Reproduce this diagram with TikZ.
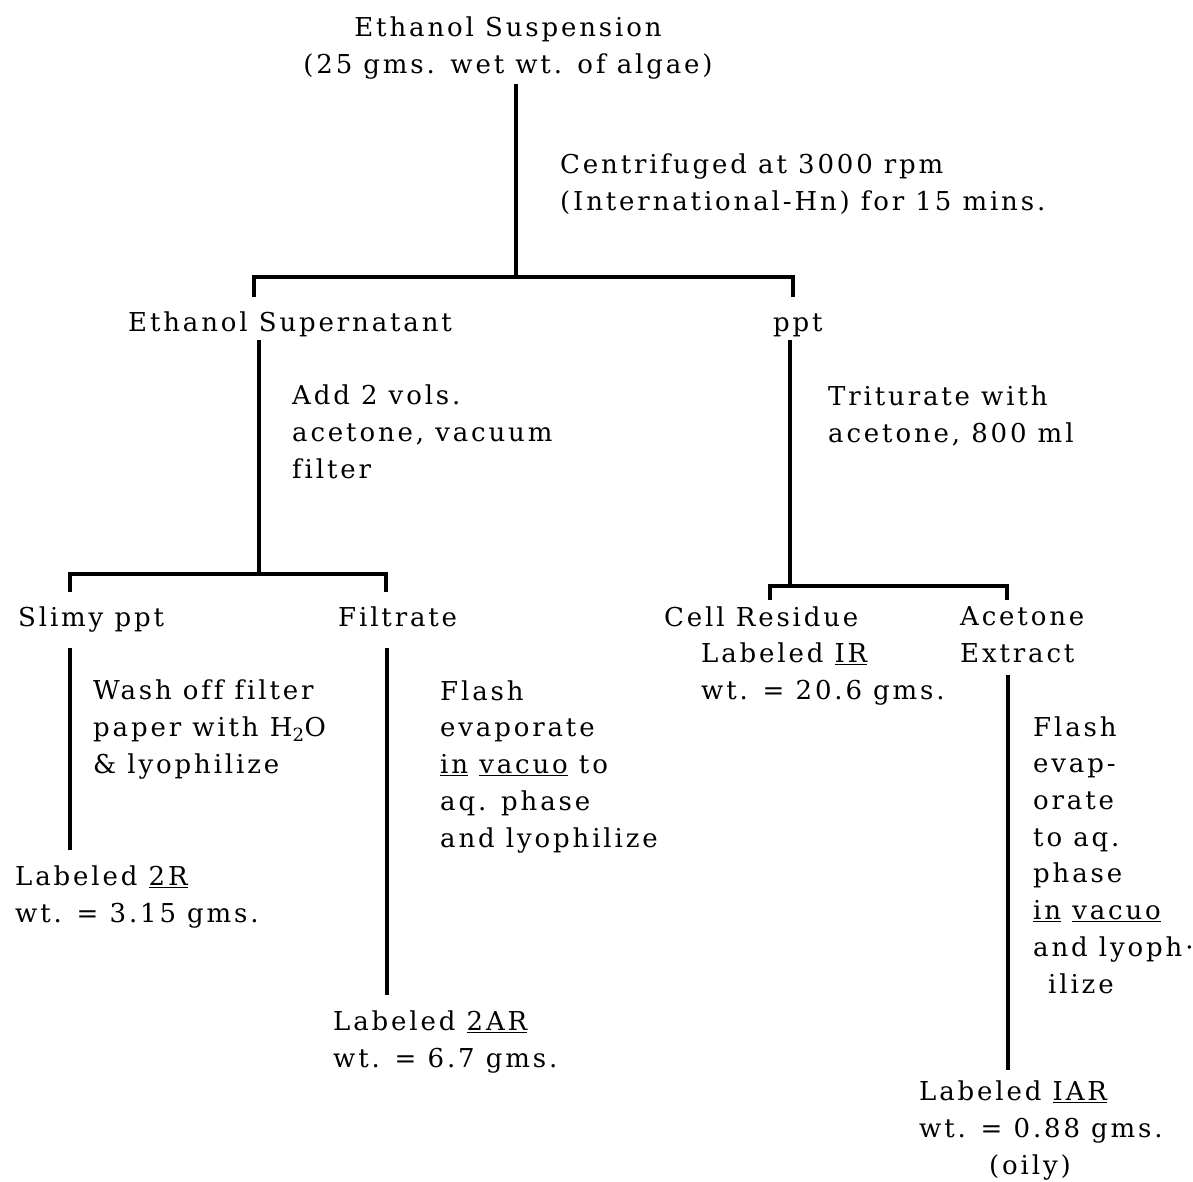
\documentclass[tikz,border=0pt]{standalone}
\usepackage{fontspec}
\setmainfont{DejaVu Serif}[LetterSpace=11, Ligatures=NoCommon]
\usetikzlibrary{calc}

\tikzset{
  txt/.style={inner sep=0pt, anchor=base west, align=left, font=\fontsize{26}{36.7}\selectfont},
  ln/.style={line width=4pt}
}

\begin{document}
\begin{tikzpicture}[x=1pt,y=-1pt]
\useasboundingbox (0,0) rectangle (1193,1181);

% top (base anchor = last line)
\node[txt, anchor=base, align=center] (susp) at (508,73) {Ethanol Suspension\\(25 gms.\ \,wet wt.\ \,of algae)};
\node[txt] (cent) at (560,210) {Centrifuged at 3000 rpm\\(International-Hn) for 15 mins.};

\node[txt] (super) at (128,331) {Ethanol Supernatant};
\node[txt] (ppt) at (773,331) {ppt};

\node[txt] (add) at (292,478) {Add 2 vols.\\acetone, vacuum\\filter};
\node[txt] (trit) at (828,442) {Triturate with\\acetone, 800 ml};

% second level
\node[txt] (slimy) at (18,626) {Slimy ppt};
\node[txt] (filtrate) at (338,626) {Filtrate};
\node[txt] (cell) at (664,626) {Cell Residue};
\node[txt] (labIR) at (701,699) {Labeled \underline{IR}\\wt. = 20.6 gms.};
\node[txt] (acet) at (960,662) {Acetone\\Extract};

\node[txt] (wash) at (93,773) {Wash off filter\\paper with H\textsubscript{2}O\\\& lyophilize};
\node[txt] (flashL) at (440,847) {Flash\\evaporate\\\underline{in} \underline{vacuo} to\\aq. phase\\and lyophilize};
\node[txt] (flashR) at (1033,993) {Flash\\evap-\\orate\\to aq.\\phase\\\underline{in} \underline{vacuo}\\and lyoph·\\\hspace*{15pt}ilize};

% results
\node[txt] (lab2R) at (15,922) {Labeled \underline{2R}\\wt. = 3.15 gms.};
\node[txt] (lab2AR) at (333,1067) {Labeled \underline{2AR}\\wt. = 6.7 gms.};
\node[txt] (labIAR) at (919,1174) {Labeled \underline{IAR}\\wt. = 0.88 gms.\\\hspace*{70pt}(oily)};

% junctions
\coordinate (j1) at (516,277);
\coordinate (b1l) at (254,277);
\coordinate (b1r) at (793,277);
\coordinate (t1l) at (254,297);
\coordinate (t1r) at (793,297);

\coordinate (s1) at (259,340);
\coordinate (j2) at (259,574);
\coordinate (b2l) at (70,574);
\coordinate (b2r) at (386,574);
\coordinate (t2l) at (70,592);
\coordinate (t2r) at (386,592);

\coordinate (p1) at (790,340);
\coordinate (j3) at (790,586);
\coordinate (b3l) at (770,586);
\coordinate (b3r) at (1007,586);
\coordinate (t3l) at (770,600);
\coordinate (t3r) at (1007,600);

\coordinate (sl1) at (70,648);
\coordinate (sl2) at (70,850);
\coordinate (fi1) at (387,648);
\coordinate (fi2) at (387,995);
\coordinate (ac1) at (1008,675);
\coordinate (ac2) at (1008,1070);

\draw[ln] ($(susp.south -| j1)+(0,5)$) -- (j1);
\draw[ln] (t1l) -- (b1l) -- (b1r) -- (t1r);

\draw[ln] (s1) -- (j2);
\draw[ln] (t2l) -- (b2l) -- (b2r) -- (t2r);

\draw[ln] (p1) -- (j3);
\draw[ln] (t3l) -- (b3l) -- (b3r) -- (t3r);

\draw[ln] (sl1) -- (sl2);
\draw[ln] (fi1) -- (fi2);
\draw[ln] (ac1) -- (ac2);

\end{tikzpicture}
\end{document}
